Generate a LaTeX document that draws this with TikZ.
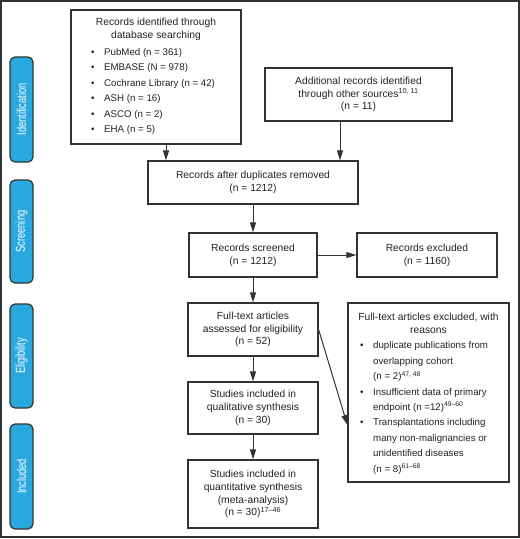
\documentclass[tikz,border=0pt]{standalone}
\usepackage{fontspec}
\setmainfont{Liberation Sans}
\usetikzlibrary{arrows.meta}
\definecolor{ln}{HTML}{333333}
\definecolor{txtc}{HTML}{222222}
\definecolor{sideblue}{HTML}{29A8E0}
\newcommand\bul{\makebox[13pt][l]{•}}
\newcommand\ind{\hspace*{13pt}}
\begin{document}
\begin{tikzpicture}[x=1pt,y=-1pt,
  box/.style={draw=ln, line width=1.2pt, inner sep=0pt, align=center, text=txtc,
    font=\fontsize{10.3}{12.7}\selectfont},
  txt/.style={inner sep=0pt, align=center, text=txtc, font=\fontsize{10.3}{12.7}\selectfont},
  lst/.style={inner sep=0pt, align=left, anchor=west, text=txtc, font=\fontsize{9.7}{15.4}\selectfont},
  side/.style={draw=ln, line width=1.2pt, fill=sideblue, rounded corners=5pt, rotate=90,
    minimum height=23, inner sep=0pt, text=white, font=\fontsize{13}{14}\selectfont},
  arr/.style={draw=ln, line width=1pt, -{Triangle[length=10pt,width=6pt]}}]
\useasboundingbox (0,0) rectangle (520,539);
\draw[ln, line width=1.2pt] (1,1) rectangle (519,537);

% side labels
\node[side, minimum width=105] (s1) at (21.5,109.5) {\scalebox{0.71}[1]{Identification}};
\node[side, minimum width=103] (s2) at (21.5,231.5) {\scalebox{0.71}[1]{Screening}};
\node[side, minimum width=104] (s3) at (21.5,356) {\scalebox{0.71}[1]{Eligibility}};
\node[side, minimum width=105] (s4) at (21.5,476.5) {\scalebox{0.71}[1]{Included}};

% boxes
\node[box, minimum width=170, minimum height=134] (A) at (156,77) {};
\node[txt] (At) at (156,29.5) {Records identified through\\database searching};
\node[lst] (Al) at (91,91.5) {\bul PubMed (n = 361)\\\bul EMBASE (N = 978)\\\bul Cochrane Library (n = 42)\\\bul ASH (n = 16)\\\bul ASCO (n = 2)\\\bul EHA (n = 5)};

\node[box, minimum width=187, minimum height=53] (B) at (358.5,94.5) {Additional records identified\\through other sources\textsuperscript{10, 11}\\(n = 11)};
\node[box, minimum width=210, minimum height=43] (C) at (253,182.5) {Records after duplicates removed\\(n = 1212)};
\node[box, minimum width=128, minimum height=44] (D) at (253,255) {Records screened\\(n = 1212)};
\node[box, minimum width=140, minimum height=44] (E) at (427,255) {Records excluded\\(n = 1160)};
\node[box, minimum width=130, minimum height=53] (F) at (253,329.5) {Full-text articles\\assessed for eligibility\\(n = 52)};
\node[box, minimum width=161, minimum height=179] (G) at (428.5,392.5) {};
\node[txt] (Gt) at (428.5,323) {Full-text articles excluded, with\\reasons};
\node[lst] (Gl) at (360,408) {\bul duplicate publications from\\\ind overlapping cohort\\\ind (n = 2)\textsuperscript{47, 48}\\\bul Insufficient data of primary\\\ind endpoint (n =12)\textsuperscript{49–60}\\\bul Transplantations including\\\ind many non-malignancies or\\\ind unidentified diseases\\\ind (n = 8)\textsuperscript{61–68}};
\node[box, minimum width=130, minimum height=52] (H) at (253,408) {Studies included in\\qualitative synthesis\\(n = 30)};
\node[box, minimum width=130, minimum height=68] (I) at (253,494) {Studies included in\\quantitative synthesis\\(meta-analysis)\\(n = 30)\textsuperscript{17–46}};

% connectors
\draw[arr] ([xshift=10pt]A.south) -- ([xshift=10pt]A.south |- C.north);
\draw[arr] ([xshift=-18.5pt]B.south) -- ([xshift=-18.5pt]B.south |- C.north);
\draw[arr] (C) -- (D);
\draw[arr] (D) -- (E);
\draw[arr] (D) -- (F);
\draw[arr] (F.east) -- ([yshift=-32.5pt]G.west);
\draw[arr] (F) -- (H);
\draw[arr] (H) -- (I);
\end{tikzpicture}
\end{document}
